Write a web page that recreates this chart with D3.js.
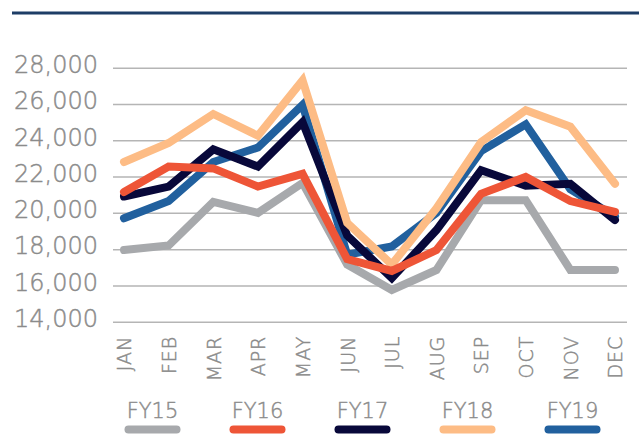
<!DOCTYPE html>
<html>
<head>
<meta charset="utf-8">
<script src="https://cdn.jsdelivr.net/npm/d3@7"></script>
<style>
  body { margin: 0; background: #fff; }
  text { font-family: "DejaVu Sans", sans-serif; fill: #8b8b8b; stroke: #8b8b8b; stroke-width: 0.45px; }
</style>
</head>
<body>
<div id="chart"></div>
<script>
// data
const months = ["JAN", "FEB", "MAR", "APR", "MAY", "JUN", "JUL", "AUG", "SEP", "OCT", "NOV", "DEC"];
const yTicks = [14000, 16000, 18000, 20000, 22000, 24000, 26000, 28000];
const fy15 = [17950, 18200, 20600, 20000, 21650, 17150, 15750, 16850, 20700, 20700, 16850, 16850];
const fy16 = [21150, 22550, 22450, 21450, 22150, 17450, 16800, 17950, 21050, 21980, 20650, 20050];
const fy17 = [20900, 21450, 23500, 22550, 25000, 18750, 16400, 19050, 22350, 21500, 21600, 19600];
const fy18 = [22800, 23850, 25450, 24250, 27300, 19450, 17150, 20250, 23900, 25650, 24750, 21600];
const fy19 = [19700, 20650, 22800, 23600, 25950, 17700, 18150, 20000, 23400, 24880, 21300, 19800];

const series = [
  {name: "FY15", values: fy15, color: "#a7a9ac"},
  {name: "FY16", values: fy16, color: "#ee5537"},
  {name: "FY17", values: fy17, color: "#08083a"},
  {name: "FY18", values: fy18, color: "#fdbc85"},
  {name: "FY19", values: fy19, color: "#21609e"}
];
// drawing order (bottom first)
const drawOrder = ["FY19", "FY17", "FY15", "FY18", "FY16"];

const width = 639, height = 435;

const svg = d3.select("#chart")
  .append("svg")
  .attr("width", width)
  .attr("height", height);

// top rule
svg.append("line")
  .attr("x1", 12).attr("x2", width)
  .attr("y1", 13).attr("y2", 13)
  .attr("stroke", "#1d3d66")
  .attr("stroke-width", 3);

const x = d3.scalePoint()
  .domain(months)
  .range([124, 615]);

const y = d3.scaleLinear()
  .domain([14000, 28000])
  .range([321.7, 67.7]);

// Y axis with gridlines
const yAxis = svg.append("g")
  .attr("transform", "translate(113,0)")
  .call(d3.axisLeft(y)
    .tickValues(yTicks)
    .tickSize(-514)
    .tickPadding(15)
    .tickFormat(d3.format(",")));
yAxis.select(".domain").remove();
yAxis.selectAll(".tick line")
  .attr("stroke", "#b5b5b5")
  .attr("stroke-width", 1.5);
yAxis.selectAll(".tick text")
  .attr("dy", "0.2em")
  .style("font-size", "24px")
  .style("font-weight", 200)
  .style("fill", "#8b8b8b");

// X axis, rotated labels
const xAxis = svg.append("g")
  .attr("transform", "translate(0,321.7)")
  .call(d3.axisBottom(x).tickSize(0));
xAxis.select(".domain").remove();
xAxis.selectAll(".tick text")
  .attr("transform", "rotate(-90)")
  .attr("text-anchor", "end")
  .attr("x", -14)
  .attr("y", 0)
  .attr("dy", "0.36em")
  .style("font-size", "19px")
  .style("font-weight", 200)
  .style("letter-spacing", "1px")
  .style("fill", "#8b8b8b");

// lines
const line = d3.line()
  .x((d, i) => x(months[i]))
  .y(d => y(d));

svg.append("g")
  .selectAll("path")
  .data(drawOrder.map(n => series.find(s => s.name === n)))
  .enter()
  .append("path")
  .attr("d", d => line(d.values))
  .attr("fill", "none")
  .attr("stroke", d => d.color)
  .attr("stroke-width", 8)
  .attr("stroke-linecap", "round")
  .attr("stroke-linejoin", "miter");

// legend
const legend = svg.append("g")
  .selectAll("g")
  .data(series)
  .enter()
  .append("g")
  .attr("transform", (d, i) => "translate(" + (152.5 + i * 105) + ",0)");

legend.append("text")
  .attr("x", 0)
  .attr("y", 418)
  .attr("text-anchor", "middle")
  .style("font-size", "21px")
  .style("font-weight", 200)
  .text(d => d.name);

legend.append("line")
  .attr("x1", -24).attr("x2", 24)
  .attr("y1", 429.5).attr("y2", 429.5)
  .attr("stroke", d => d.color)
  .attr("stroke-width", 8)
  .attr("stroke-linecap", "round");
</script>
</body>
</html>
